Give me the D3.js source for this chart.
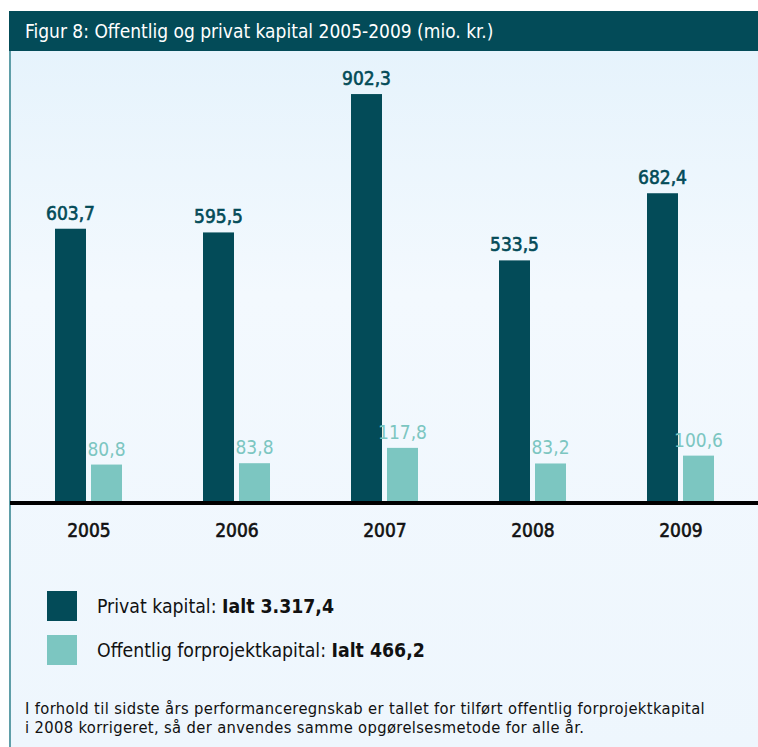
<!DOCTYPE html>
<html lang="da">
<head>
<meta charset="UTF-8">
<title>Figur 8</title>
<style>
  body { margin: 0; background: #fff; }
  svg text { font-family: "DejaVu Sans Condensed", "DejaVu Sans", sans-serif; }
</style>
</head>
<body>
<svg id="chart" width="758" height="747"></svg>
<script src="https://d3js.org/d3.v7.min.js"></script>
<script>
// data
var years = ["2005", "2006", "2007", "2008", "2009"];
var series = ["privat", "offentlig"];
var privat = [603.7, 595.5, 902.3, 533.5, 682.4];
var offentlig = [80.8, 83.8, 117.8, 83.2, 100.6];
var valueLabels = {
  privat: ["603,7", "595,5", "902,3", "533,5", "682,4"],
  offentlig: ["80,8", "83,8", "117,8", "83,2", "100,6"]
};
var legendLabels = ["Privat kapital: ", "Offentlig forprojektkapital: "];
var legendTotals = ["Ialt 3.317,4", "Ialt 466,2"];
var title = "Figur 8: Offentlig og privat kapital 2005-2009 (mio. kr.)";
var note = ["I forhold til sidste års performanceregnskab er tallet for tilført offentlig forprojektkapital",
            "i 2008 korrigeret, så der anvendes samme opgørelsesmetode for alle år."];

var dark = "#034b58", light = "#7cc6c1";
var colors = { privat: dark, offentlig: light };

var svg = d3.select("#chart");

// panel background
var grad = svg.append("defs").append("linearGradient")
    .attr("id", "bg").attr("x1", 0).attr("y1", 0).attr("x2", 0).attr("y2", 1);
grad.append("stop").attr("offset", "0").attr("stop-color", "#e6f3fc");
grad.append("stop").attr("offset", "0.35").attr("stop-color", "#f3f9fe");
grad.append("stop").attr("offset", "1").attr("stop-color", "#eef6fd");

svg.append("rect").attr("x", 9).attr("y", 51).attr("width", 749).attr("height", 696)
    .attr("fill", "url(#bg)");
svg.append("line").attr("x1", 10).attr("x2", 10).attr("y1", 11).attr("y2", 747)
    .attr("stroke", "#5f9ea8").attr("stroke-width", 2);

// header
svg.append("rect").attr("x", 9).attr("y", 11).attr("width", 749).attr("height", 40).attr("fill", dark);
svg.append("text").attr("x", 25).attr("y", 38).attr("fill", "#fff")
    .style("font-size", "19px").text(title);

// scales
var y = d3.scaleLinear().domain([0, 1000]).range([501, 50]);
var x0 = d3.scalePoint().domain(years).range([88.5, 680.5]);
var x1 = d3.scaleBand().domain(series).range([-33.5, 33.5]).paddingInner(5 / 36);

var rows = years.map(function(yr, i) {
  return { year: yr, privat: privat[i], offentlig: offentlig[i], i: i };
});

var groups = svg.append("g").selectAll("g")
  .data(rows).enter().append("g")
    .attr("transform", function(d) { return "translate(" + x0(d.year) + ",0)"; });

function cells(d) {
  return series.map(function(s) { return { key: s, value: d[s], i: d.i }; });
}

groups.selectAll("rect")
  .data(cells)
  .enter().append("rect")
    .attr("x", function(d) { return x1(d.key); })
    .attr("y", function(d) { return y(d.value); })
    .attr("width", x1.bandwidth())
    .attr("height", function(d) { return y(0) - y(d.value); })
    .attr("fill", function(d) { return colors[d.key]; });

// value labels - dark ones get a thin stroke to look semi-bold
groups.selectAll("text.val")
  .data(cells)
  .enter().append("text")
    .attr("class", "val")
    .attr("x", function(d) { return x1(d.key) + x1.bandwidth() / 2; })
    .attr("y", function(d) { return y(d.value) - 9; })
    .attr("text-anchor", "middle")
    .attr("fill", function(d) { return colors[d.key]; })
    .attr("stroke", function(d) { return d.key == "privat" ? dark : "none"; })
    .attr("stroke-width", 0.6)
    .style("font-size", "19px")
    .text(function(d) { return valueLabels[d.key][d.i]; });

// baseline
svg.append("rect").attr("x", 10).attr("y", y(0)).attr("width", 748).attr("height", 4).attr("fill", "#000");

// year axis labels
var xAxis = d3.axisBottom(x0).tickSize(0).tickPadding(0);
var ax = svg.append("g").attr("transform", "translate(0,505)").call(xAxis);
ax.select(".domain").remove();
ax.selectAll("text").attr("dy", 0).attr("y", 32)
    .attr("fill", "#111").attr("stroke", "#111").attr("stroke-width", 0.6)
    .style("font-size", "19px")
    .style("font-family", "'DejaVu Sans Condensed', 'DejaVu Sans', sans-serif");

// legend
var legend = svg.append("g").selectAll("g")
  .data(series).enter().append("g")
    .attr("transform", function(d, i) { return "translate(47," + (591 + i * 44) + ")"; });
legend.append("rect").attr("width", 30).attr("height", 30)
    .attr("fill", function(d) { return colors[d]; });
var lt = legend.append("text").attr("x", 50).attr("y", 22)
    .attr("fill", "#111").style("font-size", "19.3px");
lt.append("tspan").text(function(d, i) { return legendLabels[i]; });
lt.append("tspan").style("font-weight", "bold").text(function(d, i) { return legendTotals[i]; });

// footnote
svg.append("g").selectAll("text")
  .data(note).enter().append("text")
    .attr("x", 25).attr("y", function(d, i) { return 714 + i * 19; })
    .attr("fill", "#111").style("font-size", "16.4px").style("letter-spacing", "0.36px")
    .text(function(d) { return d; });
</script>
</body>
</html>
